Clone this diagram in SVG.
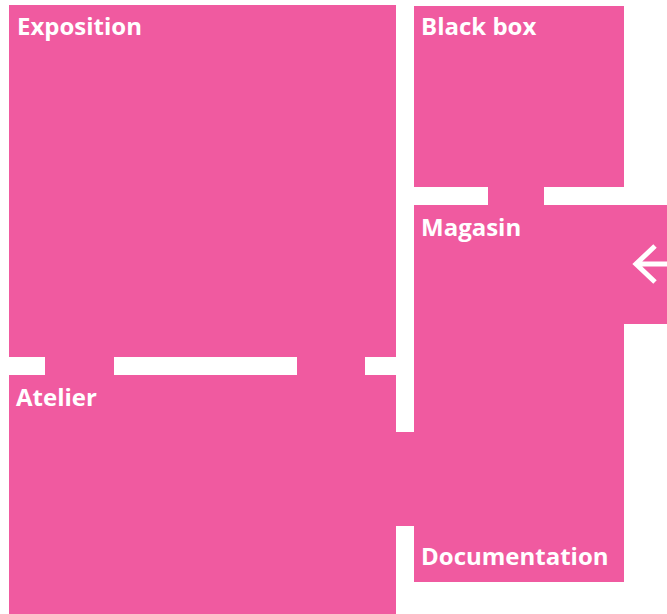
<svg xmlns="http://www.w3.org/2000/svg" width="667" height="614" viewBox="0 0 667 614">
<style>
.room{fill:#F05AA0}
.door{fill:#F05AA0}
.lbl{font-family:"Open Sans","Noto Sans",sans-serif;font-weight:700;font-size:24px;fill:#ffffff}
.arrow{fill:none;stroke:#ffffff;stroke-width:5}
</style>
<rect width="667" height="614" fill="#ffffff"/>
<g id="exposition">
<rect class="room" x="9" y="5" width="387" height="352"/>
<text class="lbl" x="17" y="35">Exposition</text>
</g>
<g id="blackbox">
<rect class="room" x="414" y="6" width="210" height="181"/>
<text class="lbl" x="421" y="35">Black box</text>
</g>
<g id="magasin">
<rect class="room" x="414" y="205" width="253" height="119"/>
<rect class="room" x="414" y="323" width="210" height="109"/>
<text class="lbl" x="421" y="236">Magasin</text>
<path class="arrow" d="M667 264 H636 M655 246 L636 264 L655 282"/>
</g>
<g id="atelier">
<rect class="room" x="9" y="375" width="387" height="239"/>
<text class="lbl" x="16" y="406">Atelier</text>
</g>
<g id="documentation">
<rect class="room" x="414" y="431" width="210" height="151"/>
<text class="lbl" x="421" y="565">Documentation</text>
</g>
<g id="connectors">
<rect class="door" x="45" y="356" width="69" height="20"/>
<rect class="door" x="297" y="356" width="68" height="20"/>
<rect class="door" x="488" y="186" width="56" height="20"/>
<rect class="door" x="395" y="432" width="20" height="94"/>
</g>
</svg>
